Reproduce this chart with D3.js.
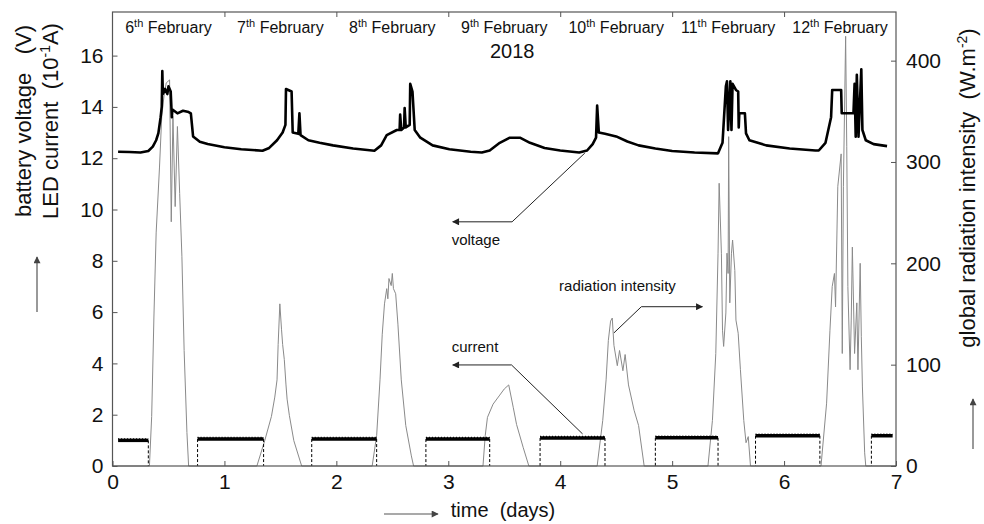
<!DOCTYPE html>
<html>
<head>
<meta charset="utf-8">
<script src="https://cdn.jsdelivr.net/npm/d3@7"></script>
<style>
  body { margin: 0; background: #fff; }
  svg { font-family: "Liberation Sans", Arial, sans-serif; }
</style>
</head>
<body>
<div id="chart"></div>
<script>
// battery voltage (V) vs time (days)
var voltage = [
  [0.05,12.25],[0.15,12.24],[0.25,12.22],[0.32,12.28],[0.36,12.45],[0.39,12.7],[0.41,12.98],[0.43,13.6],
  [0.44,14.0],[0.445,15.4],[0.45,14.5],[0.47,14.7],[0.49,14.5],[0.50,14.8],[0.52,14.6],[0.53,13.6],
  [0.535,13.9],[0.58,13.75],[0.63,13.85],[0.68,13.8],[0.70,13.75],[0.72,12.85],[0.78,12.64],[0.85,12.55],
  [1.0,12.43],[1.15,12.35],[1.34,12.29],
  [1.40,12.4],[1.47,12.7],[1.52,13.0],[1.545,13.3],[1.55,14.7],[1.60,14.6],[1.61,13.0],[1.66,12.95],
  [1.67,13.75],[1.68,12.9],[1.75,12.7],[1.85,12.6],[1.97,12.5],[2.15,12.38],[2.34,12.29],
  [2.40,12.5],[2.45,12.9],[2.54,13.1],[2.565,13.1],[2.57,13.7],[2.58,13.1],[2.605,13.2],[2.61,13.96],
  [2.62,13.2],[2.655,13.3],[2.66,14.9],[2.68,14.6],[2.70,13.1],[2.75,12.8],[2.86,12.5],[3.01,12.35],
  [3.2,12.25],[3.3,12.22],
  [3.37,12.3],[3.46,12.6],[3.55,12.8],[3.64,12.8],[3.73,12.6],[3.86,12.4],[4.0,12.3],[4.17,12.22],
  [4.24,12.3],[4.29,12.55],[4.32,12.8],[4.33,14.05],[4.345,13.0],[4.40,12.95],[4.5,12.85],[4.6,12.65],
  [4.7,12.5],[4.85,12.38],[5.0,12.28],[5.2,12.22],
  [5.41,12.19],[5.45,12.6],[5.48,14.8],[5.49,15.0],[5.50,13.1],[5.52,15.0],[5.53,13.1],[5.54,14.9],
  [5.57,14.66],[5.59,14.6],[5.595,13.2],[5.60,13.75],[5.65,13.75],[5.66,12.97],[5.69,12.7],[5.84,12.5],
  [6.05,12.38],[6.28,12.3],[6.31,12.3],
  [6.37,12.6],[6.42,13.6],[6.43,14.66],[6.51,14.66],[6.515,13.75],[6.62,13.75],[6.63,14.9],[6.64,12.84],
  [6.65,15.25],[6.665,12.84],[6.69,15.47],[6.70,13.1],[6.73,12.7],[6.80,12.55],[6.92,12.47]
];

// global radiation intensity (W.m-2) vs time (days)
var radiation = [
  [0.0,0],[0.33,0],[0.35,49],[0.37,147],[0.39,230],[0.42,295],[0.44,345],[0.46,365],[0.48,378],[0.51,381],
  [0.525,241],[0.54,345],[0.56,256],[0.58,335],[0.60,269],[0.62,207],[0.64,114],[0.665,33],[0.68,0],
  [1.29,0],[1.36,25],[1.42,49],[1.45,68],[1.47,85],[1.48,120],[1.495,160],[1.51,135],[1.52,120],
  [1.535,105],[1.55,80],[1.56,66],[1.58,50],[1.62,25],[1.69,0],
  [2.32,0],[2.36,30],[2.39,85],[2.41,130],[2.43,160],[2.45,175],[2.46,165],[2.47,185],[2.49,178],
  [2.50,190],[2.51,175],[2.53,170],[2.55,140],[2.58,85],[2.62,40],[2.67,10],[2.69,0],
  [3.31,0],[3.33,30],[3.35,48],[3.40,61],[3.46,70],[3.50,76],[3.54,80],[3.58,58],[3.61,41],[3.67,18],[3.72,0],
  [4.33,0],[4.38,45],[4.41,85],[4.43,124],[4.45,143],[4.465,146],[4.48,119],[4.51,99],[4.53,114],
  [4.56,94],[4.58,110],[4.61,80],[4.66,55],[4.70,40],[4.75,0],
  [5.32,0],[5.36,45],[5.39,111],[5.41,210],[5.42,279],[5.44,210],[5.45,134],[5.46,118],[5.48,151],
  [5.49,210],[5.50,190],[5.505,325],[5.515,161],[5.53,210],[5.54,223],[5.56,193],[5.57,144],[5.59,131],
  [5.61,95],[5.64,45],[5.66,23],[5.68,29],[5.70,0],
  [6.33,0],[6.38,62],[6.41,134],[6.43,177],[6.45,190],[6.46,157],[6.48,276],[6.51,308],[6.52,111],
  [6.53,276],[6.55,424],[6.56,315],[6.57,177],[6.59,95],[6.60,144],[6.61,216],[6.63,111],[6.65,161],
  [6.66,95],[6.68,200],[6.69,128],[6.70,78],[6.72,13],[6.73,0],[7.0,0]
];

// LED current (10^-1 A): night-time segments
var currentStart = [0.05, 0.76, 1.78, 2.80, 3.82, 4.85, 5.745, 6.78];
var currentEnd   = [0.32, 1.35, 2.36, 3.37, 4.40, 5.41, 6.32, 6.97];
var currentLevel = [1.0, 1.05, 1.05, 1.05, 1.09, 1.1, 1.18, 1.18];

var dayNumbers = ["6", "7", "8", "9", "10", "11", "12"];
var xTicks = [0, 1, 2, 3, 4, 5, 6, 7];
var leftTicks = [0, 2, 4, 6, 8, 10, 12, 14, 16];
var rightTicks = [0, 100, 200, 300, 400];

var width = 984, height = 524;
var margin = {top: 12, right: 88, bottom: 58, left: 112.5};
var w = width - margin.left - margin.right;
var h = height - margin.top - margin.bottom;
var frameColor = "#555";

var svg = d3.select("#chart").append("svg")
    .attr("width", width)
    .attr("height", height);

var defs = svg.append("defs");
function addMarker(id, color) {
  defs.append("marker")
      .attr("id", id)
      .attr("viewBox", "0 0 10 10")
      .attr("refX", 9).attr("refY", 5)
      .attr("markerWidth", 9).attr("markerHeight", 7)
      .attr("markerUnits", "userSpaceOnUse")
      .attr("orient", "auto")
    .append("path")
      .attr("d", "M0,0L10,5L0,10Z")
      .attr("fill", color);
}
addMarker("head", "#222");
addMarker("headGray", "#444");

var g = svg.append("g")
    .attr("transform", "translate(" + margin.left + "," + margin.top + ")");

var x = d3.scaleLinear().domain([0, 7]).range([0, w]);
var yL = d3.scaleLinear().domain([0, 17.7]).range([h, 0]);
var yR = d3.scaleLinear().domain([0, 448]).range([h, 0]);

// lines
var radLine = d3.line()
    .x(function(d) { return x(d[0]); })
    .y(function(d) { return yR(d[1]); });

var voltLine = d3.line()
    .x(function(d) { return x(d[0]); })
    .y(function(d) { return yL(d[1]); });

g.append("path")
    .datum(radiation)
    .attr("d", radLine)
    .attr("fill", "none")
    .attr("stroke", "#8a8a8a")
    .attr("stroke-width", 1);

g.append("path")
    .datum(voltage)
    .attr("d", voltLine)
    .attr("fill", "none")
    .attr("stroke", "#000")
    .attr("stroke-width", 2.6)
    .attr("stroke-linejoin", "round");

// current segments
var segs = currentStart.map(function(s, i) {
  return {s: s, e: currentEnd[i], v: currentLevel[i]};
});

g.selectAll(".cur")
    .data(segs)
    .enter().append("line")
    .attr("x1", function(d) { return x(d.s); })
    .attr("x2", function(d) { return x(d.e); })
    .attr("y1", function(d) { return yL(d.v); })
    .attr("y2", function(d) { return yL(d.v); })
    .attr("stroke", "#000")
    .attr("stroke-width", 3.5);

g.selectAll(".curTex")
    .data(segs)
    .enter().append("line")
    .attr("x1", function(d) { return x(d.s); })
    .attr("x2", function(d) { return x(d.e); })
    .attr("y1", function(d) { return yL(d.v) - 1.6; })
    .attr("y2", function(d) { return yL(d.v) - 1.6; })
    .attr("stroke", "#000")
    .attr("stroke-width", 1.2)
    .attr("stroke-dasharray", "1,2");

var edges = [];
segs.forEach(function(d, i) {
  if (i > 0) edges.push({t: d.s, v: d.v});
  if (i < segs.length - 1) edges.push({t: d.e, v: d.v});
});

g.selectAll(".curEdge")
    .data(edges)
    .enter().append("line")
    .attr("x1", function(d) { return x(d.t); })
    .attr("x2", function(d) { return x(d.t); })
    .attr("y1", function(d) { return yL(d.v); })
    .attr("y2", yL(0))
    .attr("stroke", "#000")
    .attr("stroke-width", 1)
    .attr("stroke-dasharray", "3,2");

// frame
g.append("rect")
    .attr("width", w).attr("height", h)
    .attr("fill", "none")
    .attr("stroke", frameColor)
    .attr("stroke-width", 1.2);

// axes
var xAxis = d3.axisBottom(x).tickValues(xTicks).tickFormat(d3.format("d"))
    .tickSize(-5).tickPadding(8).tickSizeOuter(0);
var xTop = d3.axisTop(x).tickValues([1, 2, 3, 4, 5, 6]).tickSize(-5).tickFormat("").tickSizeOuter(0);
var yAxisL = d3.axisLeft(yL).tickValues(leftTicks).tickSize(-5).tickPadding(9).tickSizeOuter(0);
var yAxisR = d3.axisRight(yR).tickValues(rightTicks).tickSize(-5).tickPadding(10).tickSizeOuter(0);

function styleAxis(sel) {
  sel.select(".domain").remove();
  sel.selectAll("line").attr("stroke", frameColor);
  sel.selectAll("text")
      .attr("fill", "#111")
      .style("font-size", "21px")
      .style("font-family", "\"Liberation Sans\", Arial, sans-serif");
}

g.append("g").attr("transform", "translate(0," + h + ")").call(xAxis).call(styleAxis);
g.append("g").call(xTop).call(styleAxis);
g.append("g").call(yAxisL).call(styleAxis);
g.append("g").attr("transform", "translate(" + w + ",0)").call(yAxisR).call(styleAxis);

// date labels along the top
var dl = g.selectAll(".date")
    .data(dayNumbers)
    .enter().append("text")
    .attr("x", function(d, i) { return x(i + 0.5); })
    .attr("y", 21)
    .attr("text-anchor", "middle")
    .style("font-size", "16px")
    .attr("fill", "#111");
dl.append("tspan").text(function(d) { return d; });
dl.append("tspan").attr("dy", -6).style("font-size", "11px").text("th");
dl.append("tspan").attr("dy", 6).text(" February");

g.append("text")
    .attr("x", x(3.5) + 8).attr("y", 46)
    .attr("text-anchor", "middle")
    .style("font-size", "20px")
    .attr("fill", "#111")
    .text("2018");

// axis titles
svg.append("text")
    .attr("transform", "translate(31,121) rotate(-90)")
    .attr("text-anchor", "middle")
    .style("font-size", "22px")
    .style("white-space", "pre")
    .attr("fill", "#111")
    .text("battery voltage   (V)");

var lt2 = svg.append("text")
    .attr("transform", "translate(58,121) rotate(-90)")
    .attr("text-anchor", "middle")
    .style("font-size", "22px")
    .style("white-space", "pre")
    .attr("fill", "#111");
lt2.append("tspan").text("LED current  (10");
lt2.append("tspan").attr("dy", -8).style("font-size", "14px").text("-1");
lt2.append("tspan").attr("dy", 8).text("A)");

var rt = svg.append("text")
    .attr("transform", "translate(975,188) rotate(-90)")
    .attr("text-anchor", "middle")
    .style("font-size", "22px")
    .style("white-space", "pre")
    .attr("fill", "#111");
rt.append("tspan").text("global radiation intensity  (W.m");
rt.append("tspan").attr("dy", -8).style("font-size", "14px").text("-2");
rt.append("tspan").attr("dy", 8).text(")");

svg.append("text")
    .attr("x", 503).attr("y", 517)
    .attr("text-anchor", "middle")
    .style("font-size", "20px")
    .style("white-space", "pre")
    .attr("fill", "#111")
    .text("time  (days)");

// axis direction arrows
function arrow(x1, y1, x2, y2, marker, color) {
  svg.append("line")
      .attr("x1", x1).attr("y1", y1).attr("x2", x2).attr("y2", y2)
      .attr("stroke", color).attr("stroke-width", 1.2)
      .attr("marker-end", "url(#" + marker + ")");
}
arrow(37, 312, 37, 257, "headGray", "#555");
arrow(973, 449, 973, 399, "headGray", "#555");
arrow(384, 514, 438, 514, "headGray", "#555");

// annotations in data coordinates (time, left axis)
var notes = [
  {label: "voltage", tx: 3.03, ty: 8.62, pts: [[4.22, 12.2], [3.57, 9.52], [3.04, 9.52]]},
  {label: "radiation intensity", tx: 3.99, ty: 6.83, pts: [[4.48, 5.19], [4.725, 6.21], [5.27, 6.21]]},
  {label: "current", tx: 3.03, ty: 4.46, pts: [[4.20, 1.25], [3.565, 3.94], [3.04, 3.94]]}
];

var noteLine = d3.line()
    .x(function(d) { return x(d[0]); })
    .y(function(d) { return yL(d[1]); });

g.selectAll(".note")
    .data(notes)
    .enter().append("path")
    .attr("d", function(d) { return noteLine(d.pts); })
    .attr("fill", "none")
    .attr("stroke", "#222")
    .attr("stroke-width", 1)
    .attr("marker-end", "url(#head)");

g.selectAll(".noteText")
    .data(notes)
    .enter().append("text")
    .attr("x", function(d) { return x(d.tx); })
    .attr("y", function(d) { return yL(d.ty); })
    .style("font-size", "15px")
    .attr("fill", "#111")
    .text(function(d) { return d.label; });
</script>
</body>
</html>
